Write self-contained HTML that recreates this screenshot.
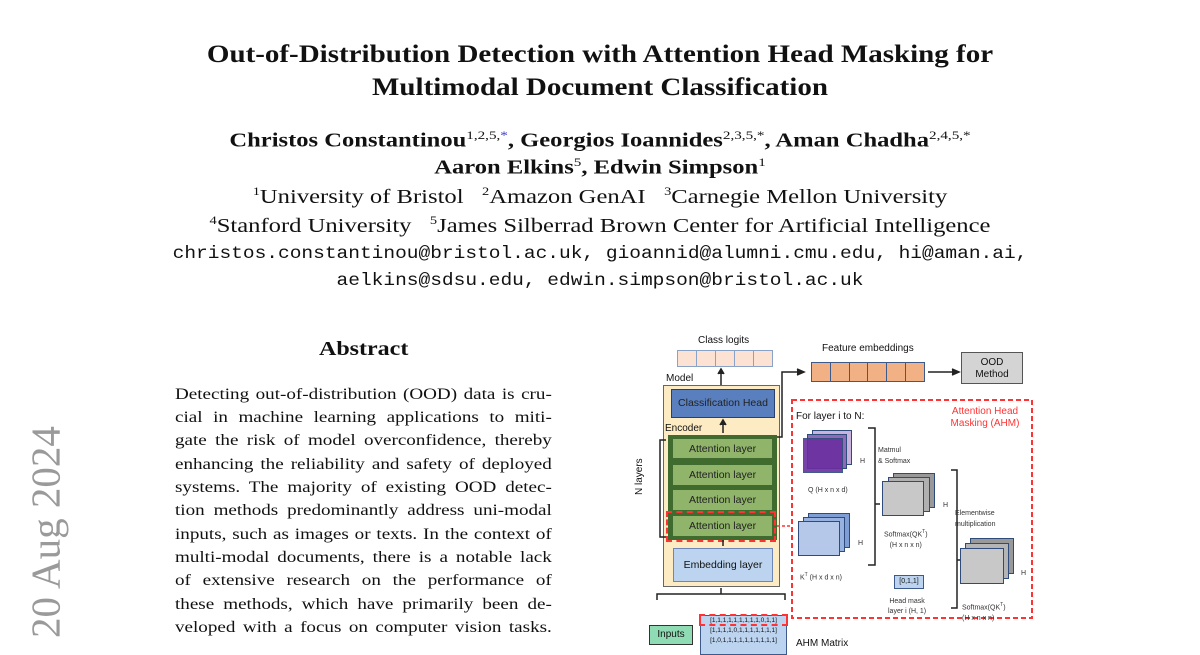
<!DOCTYPE html>
<html><head><meta charset="utf-8"><style>
body{margin:0;width:1200px;height:648px;overflow:hidden;background:#fff;position:relative;font-family:"Liberation Serif",serif;color:#111}
.a{position:absolute}
.c{text-align:center;width:1200px;left:0;white-space:nowrap}
.t{font-weight:bold;font-size:25px;transform:scaleX(1.16)}
.au{font-weight:bold;font-size:19.5px;transform:scaleX(1.26)}
.af{font-size:20.5px;transform:scaleX(1.2)}
.m{font-family:"Liberation Mono",monospace;font-size:17.5px;transform:scaleX(1.115)}
sup{font-size:12px;font-weight:normal}
.ab .l{position:absolute;left:175px;width:314px;font-size:15.9px;text-align:justify;text-align-last:justify;white-space:nowrap;height:22px;transform:scaleX(1.2);transform-origin:left top}
.d{font-family:"Liberation Sans",sans-serif;position:absolute}
.bx{position:absolute;box-sizing:border-box}
.att{background:#8fb46a;border:2px solid #3f6b2e;font-size:10.5px;text-align:center;line-height:20px;font-family:"Liberation Sans",sans-serif;color:#222}
.sq{position:absolute;box-sizing:border-box;border:1.5px solid #2f4b7c}
.sm{font-size:7px;font-family:"Liberation Sans",sans-serif;color:#333;position:absolute}
</style></head><body>
<div class="a" style="left:8px;top:420px;width:80px;height:215px">
 <div style="position:absolute;left:-70px;top:88px;width:215px;transform:rotate(-90deg);font-size:41px;color:#9a9a9a;font-family:'Liberation Serif',serif;white-space:nowrap;text-align:center">20 Aug 2024</div>
</div>
<div class="a c t" style="top:41px">Out-of-Distribution Detection with Attention Head Masking for</div>
<div class="a c t" style="top:74px">Multimodal Document Classification</div>
<div class="a c au" style="top:128px">Christos Constantinou<sup>1,2,5,<span style="color:#33c">*</span></sup>, Georgios Ioannides<sup>2,3,5,*</sup>, Aman Chadha<sup>2,4,5,*</sup></div>
<div class="a c au" style="top:155px">Aaron Elkins<sup>5</sup>, Edwin Simpson<sup>1</sup></div>
<div class="a c af" style="top:184px"><sup>1</sup>University of Bristol &nbsp;&nbsp;<sup>2</sup>Amazon GenAI &nbsp;&nbsp;<sup>3</sup>Carnegie Mellon University</div>
<div class="a c af" style="top:213px"><sup>4</sup>Stanford University &nbsp;&nbsp;<sup>5</sup>James Silberrad Brown Center for Artificial Intelligence</div>
<div class="a c m" style="top:244px">christos.constantinou@bristol.ac.uk, gioannid@alumni.cmu.edu, hi@aman.ai,</div>
<div class="a c m" style="top:271px">aelkins@sdsu.edu, edwin.simpson@bristol.ac.uk</div>
<div class="a" style="left:319px;top:338px;font-weight:bold;font-size:20px;transform:scaleX(1.2);transform-origin:left top">Abstract</div>
<div class="ab">
<div class="l" style="top:386px">Detecting out-of-distribution (OOD) data is cru-</div>
<div class="l" style="top:409px">cial in machine learning applications to miti-</div>
<div class="l" style="top:432px">gate the risk of model overconfidence, thereby</div>
<div class="l" style="top:456px">enhancing the reliability and safety of deployed</div>
<div class="l" style="top:479px">systems. The majority of existing OOD detec-</div>
<div class="l" style="top:502px">tion methods predominantly address uni-modal</div>
<div class="l" style="top:526px">inputs, such as images or texts. In the context of</div>
<div class="l" style="top:549px">multi-modal documents, there is a notable lack</div>
<div class="l" style="top:572px">of extensive research on the performance of</div>
<div class="l" style="top:596px">these methods, which have primarily been de-</div>
<div class="l" style="top:619px">veloped with a focus on computer vision tasks.</div>
</div>

<!-- diagram -->
<div class="d" style="left:698px;top:335px;font-size:10px">Class logits</div>
<div class="bx" style="left:677px;top:350px;width:96px;height:17px;border:1.5px solid #8aa2c8;background:#fbe2d3;display:flex">
<div style="flex:1;border-right:1px solid #8aa2c8"></div><div style="flex:1;border-right:1px solid #8aa2c8"></div><div style="flex:1;border-right:1px solid #8aa2c8"></div><div style="flex:1;border-right:1px solid #8aa2c8"></div><div style="flex:1"></div></div>
<div class="d" style="left:822px;top:343px;font-size:10px">Feature embeddings</div>
<div class="bx" style="left:811px;top:362px;width:114px;height:20px;border:1.5px solid #3d5a8a;background:#f2b184;display:flex">
<div style="flex:1;border-right:1px solid #3d5a8a"></div><div style="flex:1;border-right:1px solid #3d5a8a"></div><div style="flex:1;border-right:1px solid #3d5a8a"></div><div style="flex:1;border-right:1px solid #3d5a8a"></div><div style="flex:1;border-right:1px solid #3d5a8a"></div><div style="flex:1"></div></div>
<div class="bx d" style="left:961px;top:352px;width:62px;height:32px;border:1.5px solid #555;background:#d4d4d4;font-size:10px;text-align:center;line-height:12px;padding-top:4px">OOD<br>Method</div>
<div class="d" style="left:666px;top:373px;font-size:10px">Model</div>
<div class="bx" style="left:663px;top:385px;width:117px;height:202px;border:1.5px solid #666;background:#fdebc4"></div>
<div class="bx d" style="left:671px;top:389px;width:104px;height:29px;border:1.5px solid #2a3f6b;background:#5a7fbf;font-size:10.5px;color:#222;text-align:center;line-height:26px">Classification Head</div>
<div class="d" style="left:665px;top:423px;font-size:10px">Encoder</div>
<div class="bx" style="left:668px;top:435px;width:109px;height:105px;background:#3f6b2e"></div>
<div class="bx att" style="left:671px;top:437px;width:103px;height:23px">Attention layer</div>
<div class="bx att" style="left:671px;top:463px;width:103px;height:24px">Attention layer</div>
<div class="bx att" style="left:671px;top:488px;width:103px;height:24px">Attention layer</div>
<div class="bx att" style="left:671px;top:514px;width:103px;height:24px">Attention layer</div>
<div class="bx" style="left:666px;top:511px;width:110px;height:31px;border:2px dashed #f33"></div>
<div class="bx d" style="left:673px;top:548px;width:100px;height:34px;border:1.5px solid #6d86b5;background:#bcd4ef;font-size:10.5px;text-align:center;line-height:32px">Embedding layer</div>
<div class="d" style="left:634px;top:495px;font-size:10px;transform:rotate(-90deg);transform-origin:left top;white-space:nowrap">N layers</div>
<svg class="a" style="left:0;top:0" width="1200" height="648">
<g stroke="#222" stroke-width="1.5" fill="none">
<path d="M721 385 L721 371"/><path d="M718 374 L721 369 L724 374" fill="#222"/>
<path d="M723 433 L723 422"/><path d="M720 425 L723 420 L726 425" fill="#222"/>
<path d="M723 546 L723 540"/>
<path d="M777 437 L782 437 L782 372 L800 372"/><path d="M797 369 L804 372 L797 375" fill="#222"/>
<path d="M928 372 L955 372"/><path d="M952 369 L959 372 L952 375" fill="#222"/>
<path d="M666 440 L660 440 L660 537 L666 537"/>
<path d="M657 600 L657 594 L785 594 L785 600 M721 594 L721 588"/>
<path d="M777 526 L792 526" stroke="#f33" stroke-dasharray="3 2"/>
<path d="M868 428 L875 428 L875 565 L868 565 M875 504 L880 504"/>
<path d="M951 470 L957 470 L957 608 L951 608 M957 560 L962 560"/>
</g>
<rect x="792" y="400" width="240" height="218" fill="none" stroke="#f33" stroke-width="2" stroke-dasharray="5 3"/>
</svg>
<div class="d" style="left:796px;top:411px;font-size:10px;color:#111">For layer i to N:</div>
<div class="d" style="left:945px;top:406px;font-size:10px;color:#f33;text-align:center;line-height:12px;width:80px">Attention Head<br>Masking (AHM)</div>
<div class="sq" style="left:812px;top:430px;width:40px;height:35px;background:#c8b2de"></div>
<div class="sq" style="left:807px;top:434px;width:40px;height:35px;background:#8f6ab8"></div>
<div class="sq" style="left:803px;top:438px;width:40px;height:35px;background:#6a2fa0;opacity:.9"></div>
<div class="sm" style="left:808px;top:487px">Q (H x n x d)</div>
<div class="sm" style="left:860px;top:458px">H</div>
<div class="sq" style="left:808px;top:513px;width:42px;height:35px;background:#7f9ed6"></div>
<div class="sq" style="left:803px;top:517px;width:42px;height:35px;background:#97b2e0"></div>
<div class="sq" style="left:798px;top:521px;width:42px;height:35px;background:#b5c8ea"></div>
<div class="sm" style="left:800px;top:572px">K<sup style="font-size:5px">T</sup> (H x d x n)</div>
<div class="sm" style="left:858px;top:540px">H</div>
<div class="sm" style="left:878px;top:445px;line-height:11px">Matmul<br>&amp; Softmax</div>
<div class="sq" style="left:893px;top:473px;width:42px;height:35px;background:#999"></div>
<div class="sq" style="left:888px;top:477px;width:42px;height:35px;background:#b0b0b0"></div>
<div class="sq" style="left:882px;top:481px;width:42px;height:35px;background:#c8c8c8"></div>
<div class="sm" style="left:884px;top:527px;line-height:11px;text-align:center">Softmax(QK<sup style="font-size:5px">T</sup>)<br>(H x n x n)</div>
<div class="sm" style="left:943px;top:502px">H</div>
<div class="sm" style="left:955px;top:508px;line-height:11px">Elementwise<br>multiplication</div>
<div class="bx d" style="left:894px;top:575px;width:30px;height:14px;border:1.5px solid #3d5a8a;background:#bcd4ef;font-size:7px;text-align:center;line-height:11px">[0,1,1]</div>
<div class="sm" style="left:888px;top:597px;line-height:10px;text-align:center">Head mask<br>layer i (H, 1)</div>
<div class="sq" style="left:970px;top:538px;width:44px;height:36px;background:#999"></div>
<div class="sq" style="left:965px;top:543px;width:44px;height:36px;background:#b5b5b5"></div>
<div class="sq" style="left:960px;top:548px;width:44px;height:36px;background:#c8c8c8"></div>
<div class="sm" style="left:962px;top:600px;line-height:11px">Softmax(QK<sup style="font-size:5px">T</sup>)<br>(H x n x n)</div>
<div class="sm" style="left:1021px;top:570px">H</div>
<div class="bx d" style="left:649px;top:625px;width:44px;height:20px;border:1.5px solid #333;background:#8fdcb4;font-size:10px;text-align:center;line-height:18px">Inputs</div>
<div class="bx" style="left:700px;top:615px;width:87px;height:40px;border:1.5px solid #3d5a8a;background:#bcd4ef;font-family:'Liberation Sans',sans-serif;font-size:6.5px;line-height:10px;text-align:center">[1,1,1,1,1,1,1,1,1,0,1,1]<br>[1,1,1,1,0,1,1,1,1,1,1,1]<br>[1,0,1,1,1,1,1,1,1,1,1,1]</div>
<div class="bx" style="left:699px;top:614px;width:89px;height:12px;border:2px dashed #f33"></div>
<div class="d" style="left:796px;top:638px;font-size:10px">AHM Matrix</div>
</body></html>
